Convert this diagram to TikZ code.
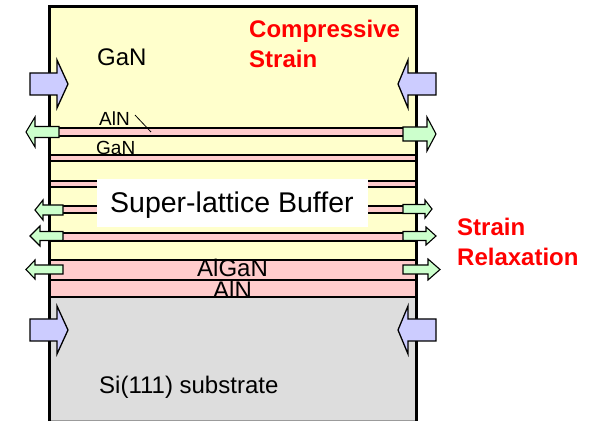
\documentclass[tikz,border=0pt]{standalone}
\usepackage{fontspec}
\setmainfont{Liberation Sans}
\definecolor{gancolor}{HTML}{FFFFCC}
\definecolor{alncolor}{HTML}{FFCCCC}
\definecolor{sicolor}{HTML}{DDDDDD}
\definecolor{presscolor}{HTML}{CCCCFF}
\definecolor{relaxcolor}{HTML}{CCFFCC}
\definecolor{straincolor}{HTML}{FF0000}
% tail x, head base x, tip x, centre y, body half width, head half width
\newcommand{\blockarrow}[7]{%
  \draw[#1] (#2,#5-#6) -- (#3,#5-#6) -- (#3,#5-#7) -- (#4,#5)
    -- (#3,#5+#7) -- (#3,#5+#6) -- (#2,#5+#6) -- cycle;}
\begin{document}
\begin{tikzpicture}[x=1pt, y=-1pt,
    every node/.style={inner sep=0pt, font=\fontsize{24}{29}\selectfont},
    redlabel/.style={anchor=north west, align=left, text=straincolor, font=\bfseries\fontsize{24}{30}\selectfont},
    smalllabel/.style={anchor=base west, font=\fontsize{19}{23}\selectfont},
    press/.style={draw=black, line width=1.3pt, line join=miter, fill=presscolor},
    relax/.style={draw=black, line width=1.1pt, line join=miter, fill=relaxcolor}]
    \useasboundingbox (0,0) rectangle (595,422);
    \fill[gancolor] (49,7) rectangle (416,297);
    \fill[sicolor] (49,297) rectangle (416,420);
    \foreach \top/\bot in {128/136,155/161,181/187,206/213,233/241,260/280,280/297} {
        \fill[alncolor] (49,\top) rectangle (416,\bot);
        \draw[line width=2.5pt] (49,\top) -- (416,\top);
        \draw[line width=2.5pt] (49,\bot) -- (416,\bot);
    }
    \fill[white] (97,179) rectangle (368,227);
    \draw[sicolor!70!black, line width=1pt] (49,420) -- (416,420);
    \draw[line width=3pt] (49,421) -- (49,7) -- (416,7) -- (416,421);
    \node[anchor=base west] (top-gan) at (97,66) {GaN};
    \node[redlabel] (compressive) at (249,20) {Compressive\\Strain};
    \node[smalllabel] (sl-aln) at (99,126) {AlN};
    \node[smalllabel] (sl-gan) at (96,155) {GaN};
    \coordinate (aln-tick) at (151,132);
    \draw[line width=0.8pt] (sl-aln.north east) ++(5,3) -- (aln-tick);
    \node[anchor=base west, font=\fontsize{28.5}{34}\selectfont] (buffer) at (110,213) {Super-lattice Buffer};
    \node[redlabel] (relaxation) at (457,218) {Strain\\Relaxation};
    \node[anchor=base west] (algan) at (197,277) {AlGaN};
    \node[anchor=base west] (aln) at (213,298.5) {AlN};
    \node[anchor=base west] (substrate) at (99,393) {Si(111) substrate};
    \foreach \y in {84,330} {
        \blockarrow{press}{30}{57}{68}{\y}{11}{24}
        \blockarrow{press}{436}{408}{398}{\y}{11}{24}
    }
    \blockarrow{relax}{59}{35}{26}{132}{5.5}{15}
    \blockarrow{relax}{403}{427}{436}{134}{7}{17}
    \blockarrow{relax}{63}{43}{35}{210}{5}{10}
    \blockarrow{relax}{403}{425}{432}{209}{4.5}{9}
    \blockarrow{relax}{63}{40}{30}{236}{4.5}{10}
    \blockarrow{relax}{403}{426}{436}{236}{4.5}{9}
    \blockarrow{relax}{63}{35}{26}{269.5}{4.5}{9.5}
    \blockarrow{relax}{403}{428}{440}{269.5}{4.5}{10.5}
\end{tikzpicture}
\end{document}
